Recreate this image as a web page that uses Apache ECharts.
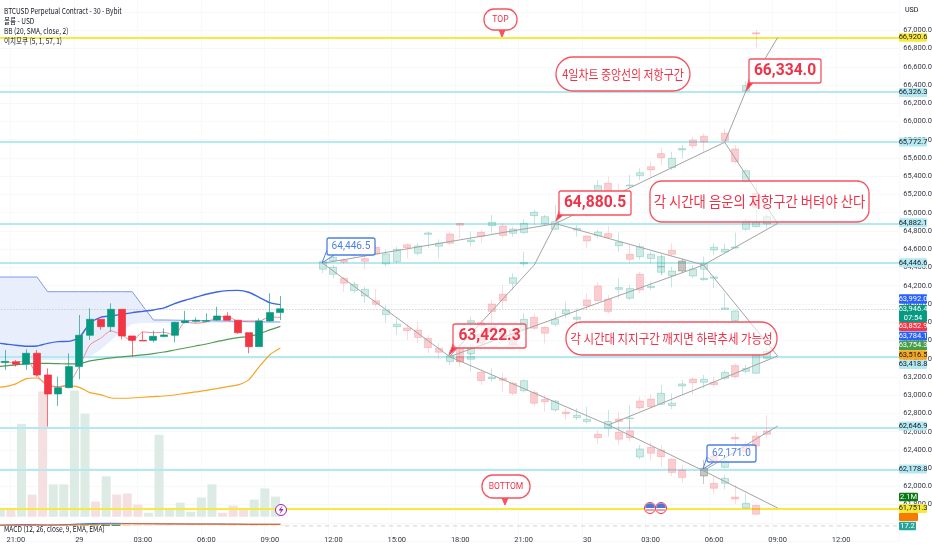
<!DOCTYPE html>
<html><head><meta charset="utf-8">
<style>html,body{margin:0;padding:0;background:#fff}#c{width:932px;height:550px}</style>
<script src="https://cdn.jsdelivr.net/npm/echarts@6/dist/echarts.min.js"></script>
</head><body><div id="c"></div>
<script>
const categories = ['20:00','20:30','21:00','21:30','22:00','22:30','23:00','23:30','29','00:30','01:00','01:30','02:00','02:30','03:00','03:30','04:00','04:30','05:00','05:30','06:00','06:30','07:00','07:30','08:00','08:30','09:00','09:30','10:00','10:30','11:00','11:30','12:00','12:30','13:00','13:30','14:00','14:30','15:00','15:30','16:00','16:30','17:00','17:30','18:00','18:30','19:00','19:30','20:00','20:30','21:00','21:30','22:00','22:30','23:00','23:30','30','00:30','01:00','01:30','02:00','02:30','03:00','03:30','04:00','04:30','05:00','05:30','06:00','06:30','07:00','07:30','08:00','08:30','09:00','09:30','10:00','10:30','11:00','11:30','12:00','12:30','13:00','13:30','14:00','14:30'];
const tickLabels = ['21:00','29','03:00','06:00','09:00','12:00','15:00','18:00','30'];
// bar numbers below count from the 21:00 candle (0); first category is bar -2
const candles = [[63340,63350,63270,63470],[63357,63371,63276,63495],[63367,63338,63313,63386],[63338,63459,63276,63503],[63459,63221,63203,63495],[63221,63013,62655,63294],[63013,63082,62882,63203],[63082,63313,63075,63459],[63313,63656,63174,63879],[63656,63832,63605,63952],[63832,63751,63715,63832],[63751,63941,63696,64007],[63941,63649,63612,63941],[63649,63601,63422,63649],[63601,63594,63594,63696],[63601,63645,63579,63707],[63642,63660,63634,63733],[63656,63799,63579,63806],[63795,63813,63788,63923],[63810,63821,63795,63853],[63810,63817,63802,63897],[63824,63868,63817,63970],[63868,63821,63817,63908],[63821,63685,63671,63821],[63685,63532,63459,63685],[63532,63813,63532,63843],[63813,63905,63806,64117],[63905,63946,63824,64087]];
const bbUpper = [63575,63561,63547,63536,63539,63568,63587,63590,63634,63788,63853,63868,63886,63905,63919,63934,63956,64003,64040,64073,64106,64131,64146,64149,64128,64073,64014,63992];
const bbBasis = [63310,63320,63331,63346,63349,63349,63346,63342,63346,63375,63393,63408,63419,63430,63441,63455,63473,63495,63517,63539,63561,63587,63612,63631,63642,63671,63715,63754];
const bbLower = [63085,63093,63123,63181,63188,63112,63093,63101,63086,63028,63006,62969,62966,62969,62977,62984,62991,63002,63020,63035,63053,63072,63093,63112,63167,63313,63441,63516];
const conversion = [63360,63364,63357,63386,63221,63101,63093,63130,63313,63550,63623,63704,63660,63594,63693,63685,63689,63660,63799,63788,63802,63853,63861,63813,63813,63813,63857,63853];
const cloudTop = [64295,64295,64295,64295,64295,64134,64134,64134,64134,64134,64134,64134,64134,64134,63977,63824,63824,63822,63820,63818,63816,63814,63812,63810,63806,63804,63802,63802];
const cloudBottom = [63385,63385,63385,63385,63385,63385,63385,63385,63385,63420,63500,63600,63700,63780,63790,63791,63791,63791,63791,63791,63791,63791,63791,63791,63791,63791,63791,63791];
const volumes = [0.7,0.74,0.74,9.66,2.31,13.0,3.36,3.36,13.1,10.7,1.58,4.2,2.31,2.42,1.26,0.42,8.5,0.74,1.47,0.53,2.0,3.36,0.42,1.16,0.74,1.79,2.94,2.1];
const macdHist = [0,2,3,9,4,2,6,9,10,12,13,14,8,6,5,4,4,3,3,3,3,3,4,4,5,5,4,3];
const macdLine = [8,10,12,14,12,9,11,15,20,24,26,27,26,24,23,22,21,21,20,20,20,20,19,18,16,16,17,17];
const macdSignal = [6,7,8,9,10,10,10,11,13,15,17,19,21,22,22,22,21,20,20,19,19,19,18,18,18,18,17,17];

const priceLevels = [66326.3,65772.7,64882.1,64446.6,63418.8,62646.9,62178.8];
const yellowLevels = [66920.6,61751.3];
const lastPrice = 63946.4;

// projected (faded) candle legs: first bar number + rows [open, close, low, high]
const legUpperStart = 29;
const legUpper = [[64380,64464,64336,64482],[64475,64511,64467,64537],[64482,64460,64438,64500],[64537,64610,64511,64635],[64497,64467,64380,64548],[64621,64548,64537,64646],[64438,64548,64409,64592],[64464,64599,64446,64628],[64650,64617,64500,64665],[64555,64635,64537,64665],[64763,64778,64610,64793],[64632,64665,64500,64709],[64767,64665,64646,64793],[64884,64862,64720,64891],[64683,64701,64628,64793],[64785,64738,64665,64811],[64858,64895,64774,64975],[64855,64749,64720,64891],[64774,64822,64738,64847],[64782,64884,64767,64928],[64968,65005,64866,65030],[64880,64957,64866,64975],[64818,64902,64811,65085],[64975,65048,64957,65085],[65140,65085,65048,65176],[64994,65085,64957,65130],[65195,65297,65176,65359],[65323,65231,65213,65395],[65231,65195,65176,65323],[65293,65304,65268,65414],[65407,65439,65359,65487],[65505,65469,65395,65560],[65648,65604,65524,65706],[65494,65597,65469,65670],[65688,65703,65597,65743],[65798,65735,65706,65834],[65838,65776,65670,65871],null,[65871,65790,65761,65925],null,[66335,66393,66316,66444],[66974,66959,66802,67003]];
const legFallStart = 68;
const legFall = [[65699,65560,65542,65743],[65341,65461,65323,65469],[65213,65059,65049,65341]];
const legLowerStart = 30;
const legLower = [[64325,64402,64281,64427],[64281,64226,64135,64299],[64146,64215,64117,64244],[64087,64160,64014,64190],[64036,63996,63970,64160],[63883,63934,63795,63989],[63751,63777,63660,63843],[63737,63707,63605,63788],[63715,63631,63569,63806],[63623,63521,63459,63660],[63514,63470,63404,63569],[63368,63433,63331,63495],[63422,63367,63349,63514],[63393,63422,63258,63459],[63251,63159,63112,63276],[63181,63199,63148,63294],[63185,63163,63039,63247],[63130,63020,63002,63148],[63050,63159,63028,63174],[63028,62911,62882,63057],[62955,62929,62819,63002],[62838,62936,62819,62947],[62816,62797,62728,62856],[62754,62779,62728,62856],[62710,62735,62691,62874],[62571,62534,62465,62618],[62637,62710,62545,62838],[62593,62516,62454,62655],[62611,62534,62490,62728],[62322,62410,62297,62454],[62428,62362,62282,62490],[62399,62326,62216,62454],[62297,62151,62114,62308],[62180,62096,62041,62235],null,[62198,62114,62026,62289],[62034,61979,61917,62107],[62034,62088,61968,62125],[61884,61862,61807,62015],[61763,61814,61760,61924],[61792,61694,61694,61795]];
const legSteepStart = 43;
const legSteep = [[63795,63817,63605,63861],[63795,63759,63642,63824],[64000,63916,63788,64044],[64106,64036,63952,64208],[64226,64288,64153,64336],[64438,64453,64409,64573]];
const legMiddleStart = 42;
const legMiddle = [[63514,63368,63313,63569],[63452,63521,63441,63569],[63671,63569,63550,63715],[63751,63678,63641,63788],[63715,63623,63569,63788],[63715,63550,63532,63751],[63722,63832,63696,63897],[63854,63733,63715,63897],[63744,63678,63569,63751],[63777,63832,63751,63916],[63890,63934,63843,64025],[63832,63854,63751,63952],[64044,63981,63934,64117],[64197,64036,64025,64244],[64051,63916,63897,64098],[64160,64179,64062,64281],[64062,64168,64043,64208],[64325,64153,64117,64354],[64179,64193,64153,64244],[64347,64409,64317,64537],[64310,64361,64182,64409],[64471,64361,64336,64500],[64306,64383,64281,64427],[64380,64445,64299,64518],[64592,64621,64537,64665],[64570,64599,64555,64665],[64613,64624,64606,64781],[64818,64909,64803,64939],[64847,64898,64840,65030],[64877,64957,64829,64993]];
const legDropStart = 53;
const legDrop = [[64811,64829,64738,64866],[64745,64690,64610,64756],[64749,64789,64719,64811],[64771,64727,64719,64855],[64639,64679,64573,64782],[64544,64489,64445,64646],[64518,64628,64482,64665],[64497,64544,64445,64573],[64409,64518,64317,64537],[64588,64544,64518,64665],[64361,64471,64336,64500],null,[64266,64281,64255,64299],[64281,64296,64171,64307],[63941,63956,63937,64117],[63817,63923,63806,63934]];
const legRecoverStart = 57;
const legRecover = [[62739,62710,62637,62819],[62743,62750,62618,62892],[62936,62863,62838,62984],[62958,62874,62856,63013],[62900,63020,62892,63112],[62885,62911,62845,63020],[63101,63123,63002,63166],[63177,63137,63002,63196],[63141,63174,63075,63221],[63141,63115,63086,63203],[63185,63250,63166,63276],[63324,63203,63185,63349],[63261,63291,63240,63331],[63240,63451,63232,63459],[63404,63481,63386,63514]];
const legBounceStart = 65;
const legBounce = [[62114,62198,62026,62289],[62333,62282,62271,62436],[62209,62271,62198,62308],[62538,62520,62381,62582],[62443,62381,62362,62490],[62553,62443,62436,62600],[62607,62571,62527,62783]];

// guide paths: [bar number, price]
const pathUpper = [[29,64446.5],[51,64880.5]];
const pathLower = [[29,64446.5],[41,63422.3]];
const pathSteep = [[41,63422.3],[49,64427],[51,64880.5]];
const pathRise = [[51,64880.5],[67,65772.7]];
const pathTop = [[67,65772.7],[69,66334],[72,66920.6]];
const pathFall = [[67,65772.7],[72,64882.1]];
const pathMiddle = [[72,64882.1],[65,64427],[41,63422.3]];
const pathDrop = [[51,64880.5],[65,64427],[72,63429]];
const pathRecover = [[72,63429],[56,62673]];
const pathBottom = [[41,63422.3],[56,62673],[65,62171],[72,61763]];
const pathBounce = [[65,62171],[72,62662]];

const FONT = '"Noto Sans CJK KR","Noto Sans",sans-serif';
const NUM = 'Roboto,"Noto Sans",sans-serif';
const NARROW = '"Liberation Sans Narrow",Roboto,sans-serif';
const UP = '#089981', DOWN = '#f23645', RED = '#f7525f', CYAN = '#b4e9f2', YEL = '#f7ea3c';
const OFF = 2; // position of bar 0 in categories

function pad(start, rows){
  const out = categories.map(() => ['-','-','-','-']);
  rows.forEach((r,k) => { if (r) out[start+OFF+k] = r; });
  return out;
}
function ghost(start, rows){
  return {type:'candlestick', data:pad(start,rows), barWidth:7.5, z:4, clip:true,
    itemStyle:{color:'rgba(8,153,129,0.2)',color0:'rgba(242,54,69,0.25)',borderColor:'rgba(8,153,129,0.24)',borderColor0:'rgba(242,54,69,0.18)',borderWidth:1}};
}
function line(arr,color,w,z){
  return {type:'line',data:arr,symbol:'none',smooth:0.25,lineStyle:{color:color,width:w},z:z||3,clip:true};
}
function path(pts){
  return {type:'line',data:pts.map(p=>[p[0]+OFF,p[1]]),symbol:'none',lineStyle:{color:'#a3a3a3',width:1},z:5,silent:true};
}
function hair(v,color,w,type){
  return {yAxis:v,lineStyle:{color:color,width:w,type:type||'solid'}};
}

const series = [
  {type:'line',stack:'cloud',data:cloudBottom,symbol:'none',lineStyle:{opacity:0},z:1},
  {type:'line',stack:'cloud',data:cloudTop.map((v,i)=>v-cloudBottom[i]),symbol:'none',lineStyle:{color:'#7f9ae8',width:1},areaStyle:{color:'#e9eefc',opacity:1},z:1},
  {type:'bar',yAxisIndex:1,barWidth:9,z:1,data:volumes.map((v,i)=>({value:v,itemStyle:{color:candles[i][1]>=candles[i][0]?'#dcebe3':'#f5e0e1'}}))},
  {type:'line',data:[],z:2,markLine:{silent:true,symbol:'none',animation:false,label:{show:false},z:2,data:[
    ...priceLevels.map(v=>hair(v,CYAN,1.8)),
    ...yellowLevels.map(v=>hair(v,YEL,2)),
    hair(lastPrice,'#b9bdc6',1,[1,2])
  ]}},
  line(bbLower,'#f5a623',1.2), line(bbBasis,'#4f9d55',1.2), line(conversion,'#f28b93',1), line(bbUpper,'#3f66de',1.4),
  {type:'candlestick',data:candles.concat(categories.slice(candles.length).map(()=>['-','-','-','-'])),barWidth:7.5,z:4,
    itemStyle:{color:UP,color0:DOWN,borderColor:'rgba(8,153,129,0.65)',borderColor0:'rgba(242,54,69,0.7)',borderWidth:1}},
  ghost(legUpperStart,legUpper),ghost(legFallStart,legFall),ghost(legLowerStart,legLower),ghost(legSteepStart,legSteep),
  ghost(legMiddleStart,legMiddle),ghost(legDropStart,legDrop),ghost(legRecoverStart,legRecover),ghost(legBounceStart,legBounce),
  path(pathUpper),path(pathLower),path(pathSteep),path(pathRise),path(pathTop),path(pathFall),path(pathMiddle),path(pathDrop),path(pathRecover),path(pathBottom),path(pathBounce),
  {type:'bar',yAxisIndex:2,barWidth:9,z:5,data:macdHist.map((v,i)=>({value:v,itemStyle:{color:i>=10&&i<=11?'#26a69a':(i<12?'#7fd0c7':'#f8c9a8')}}))},
  {type:'line',yAxisIndex:2,data:macdLine,symbol:'none',lineStyle:{color:'#2962ff',width:1},z:6},
  {type:'line',yAxisIndex:2,data:macdSignal,symbol:'none',lineStyle:{color:'#ff6d00',width:1},z:6}
];

const g = [];
const Z = 100;
function label(x,y,t,o,sx){
  g.push({type:'text',z:Z+5,x:x,y:y,scaleX:sx||0.8,style:Object.assign({text:t,fill:'#131722',font:'8.2px '+FONT,verticalAlign:'middle'},o||{})});
}
function tag(yc,h,w,bg,fg,t){
  g.push({type:'rect',z:Z,shape:{x:899,y:yc-h/2,width:w,height:h,r:1},style:{fill:bg}});
  if (t) g.push({type:'text',z:Z+1,x:899+w/2,y:yc,style:{text:t,fill:fg,font:'7.5px '+NARROW,align:'center',verticalAlign:'middle',lineHeight:9}});
}
function callout(x,y,w,h,r,c,ink,fill,t,font,sx,tail,tailFill){
  if (tail) g.push({type:'polygon',z:Z-1,shape:{points:tail},style:{fill:tailFill,stroke:c,lineWidth:1}});
  g.push({type:'rect',z:Z,shape:{x:x,y:y,width:w,height:h,r:r},style:{fill:fill,stroke:c,lineWidth:1.3}});
  g.push({type:'text',z:Z+1,x:x+w/2,y:y+h/2,scaleX:sx,style:{text:t,fill:ink,font:font,align:'center',verticalAlign:'middle'}});
}
label(4,11,'BTCUSD Perpetual Contract - 30 - Bybit');
label(4,21,'볼륨 - USD');
label(4,31,'BB (20, SMA, close, 2)');
label(4,41,'이치모쿠 (5, 1, 57, 1)');
label(4,529,'MACD (12, 26, close, 9, EMA, EMA)');
label(905,10,'USD',{font:'7.5px '+NUM},0.95);

const BLUE='#4c7fe8', INK='#ee3348', W60='rgba(255,255,255,0.55)';
callout(484,9,33,21,10,RED,INK,'#fff','TOP','9px '+NUM,0.95,[[499,30],[505,30],[502,37]],RED);
callout(482,475,48,23,11,RED,INK,'#fff','BOTTOM','9px '+NUM,0.95,[[502,498],[508,498],[505,505]],RED);
callout(556,57,134,34,17,RED,INK,W60,'4일차트 중앙선의 저항구간','13px '+FONT,0.84);
callout(749,59,72,24,2,RED,INK,'#fff','66,334.0','bold 17px '+NUM,0.92,[[749,79],[753,83],[746,91]],DOWN);
callout(559,191,72,24,2,RED,INK,'rgba(255,255,255,0.9)','64,880.5','bold 17px '+NUM,0.92,[[559,211],[563,215],[556,221]],DOWN);
callout(650,181,219,41,12,RED,INK,W60,'각 시간대 음운의 저항구간 버텨야 산다','15px '+FONT,0.89);
callout(453,324,73,24,2,RED,INK,W60,'63,422.3','bold 17px '+NUM,0.92,[[453,344],[457,348],[449,355]],DOWN);
callout(566,322,211,33,16,RED,INK,W60,'각 시간대 지지구간 깨지면 하락추세 가능성','13px '+FONT,0.88);
callout(327,238,48,17,2,BLUE,BLUE,'#fff','64,446.5','11px '+NUM,0.92,[[327,250],[334,255],[322,263]],'#fff');
callout(707,445,49,17,2,BLUE,BLUE,W60,'62,171.0','11px '+NUM,0.92,[[707,457],[714,462],[703,469]],'#fff');

tag(37.5,8.5,28,YEL,'#131722','66,920.6');
tag(92.5,9,28,CYAN,'#131722','66,326.3');
tag(142,9,28,CYAN,'#131722','65,772.7');
tag(222.7,9,28,CYAN,'#131722','64,882.1');
tag(262.7,9,28,CYAN,'#131722','64,446.6');
tag(299,9.5,28,'#2962ff','#fff','63,992.0');
tag(313.5,17,28,UP,'#fff','63,946.4\n07:54');
tag(326.5,9,28,DOWN,'#fff','63,852.9');
tag(336,9,28,'#2962ff','#fff','63,784.1');
tag(345.5,9.5,28,'#43a047','#fff','63,754.3');
tag(355,9.5,28,'#f9a825','#131722','63,516.5');
tag(364.5,9,28,CYAN,'#131722','63,418.8');
tag(426,9,28,CYAN,'#131722','62,646.9');
tag(469,9,28,CYAN,'#131722','62,178.8');
tag(517,8,19,'#f57c00','#fff','');
tag(497,8.5,19,'#0b7a13','#fff','2.1M');
tag(508.5,9,28,YEL,'#131722','61,751.3');
tag(526,8.5,17,'#26a69a','#fff','17.2');

// zero line of the oscillator pane
g.push({type:'line',z:2,shape:{x1:285,y1:526,x2:899,y2:526},style:{stroke:'#cfd2d8',lineWidth:1,lineDash:[4,4]}});
// event markers
[650,661].forEach(cx=>{
  g.push({type:'circle',z:Z,shape:{cx:cx,cy:508,r:5.5},style:{fill:'#fff',stroke:DOWN,lineWidth:1}});
  g.push({type:'sector',z:Z+1,shape:{cx:cx,cy:508,r:4.8,r0:0,startAngle:Math.PI,endAngle:Math.PI*2},style:{fill:'#4a78d8'}});
  g.push({type:'line',z:Z+1,shape:{x1:cx-4,y1:510,x2:cx+4,y2:510},style:{stroke:DOWN,lineWidth:1}});
});
g.push({type:'circle',z:Z,shape:{cx:281,cy:510,r:5.5},style:{fill:'#fff',stroke:'#9c27b0',lineWidth:1}});
g.push({type:'polygon',z:Z+1,shape:{points:[[282.5,505.5],[278.5,510.5],[281,510.5],[279.5,514.5],[283.5,509],[281,509]]},style:{fill:'#9c27b0'}});

const bandW = 10.58;
const chart = echarts.init(document.getElementById('c'),null,{renderer:'canvas'});
chart.setOption({
  animation:false, backgroundColor:'#ffffff',
  grid:{left:-bandW,top:-6.2,width:bandW*categories.length,height:547.3,containLabel:false,outerBoundsMode:'none'},
  xAxis:{type:'category',data:categories,boundaryGap:true,axisLine:{show:false},axisTick:{show:false},
    splitLine:{show:true,interval:(i,v)=>tickLabels.includes(v),lineStyle:{color:'#f8f9fa',width:1}},
    axisLabel:{interval:(i,v)=>tickLabels.includes(v),margin:-5,fontSize:7.5,color:'#363a45',fontFamily:NARROW,hideOverlap:false}},
  yAxis:[
    {type:'value',position:'right',min:61400,max:67400,interval:200,axisLine:{show:false},axisTick:{show:false},
      splitLine:{show:true,lineStyle:{color:'#f7f8fa',width:1}},
      axisLabel:{margin:4,fontSize:7.5,color:'#363a45',fontFamily:NARROW,showMinLabel:true,showMaxLabel:true,
        formatter:v=>(v<61800||v>67000)?'':v.toLocaleString('en-US',{minimumFractionDigits:1,maximumFractionDigits:1})}},
    {type:'value',show:false,min:-2.52,max:54.25,splitLine:{show:false}},
    {type:'value',show:false,min:-151,max:5322,splitLine:{show:false}}
  ],
  series:series,
  graphic:{elements:g}
});
</script></body></html>
